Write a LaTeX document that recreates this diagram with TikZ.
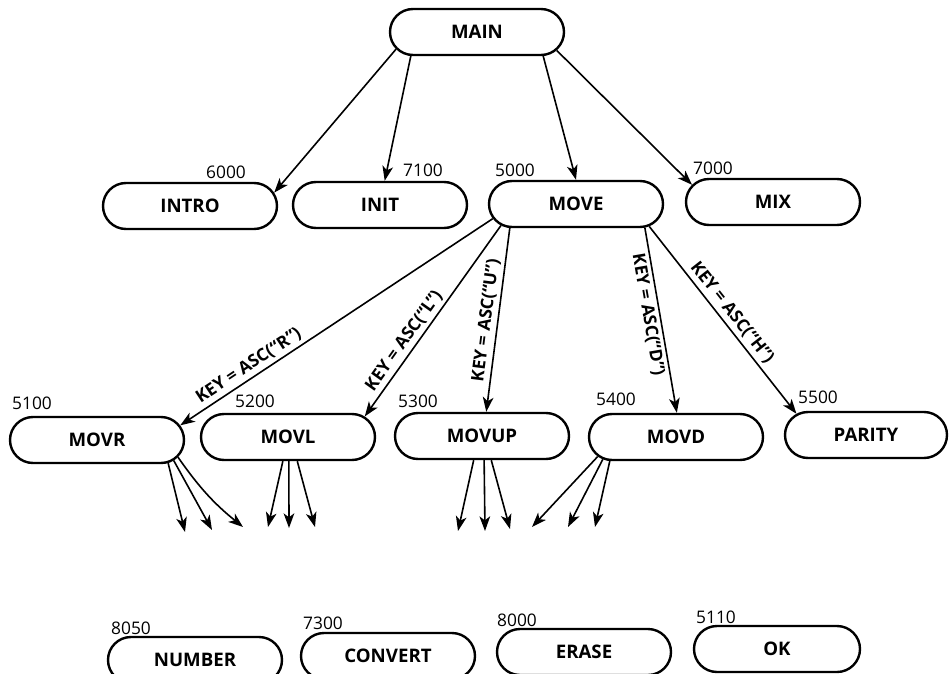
\documentclass[tikz,border=0pt]{standalone}
\usepackage{fontspec}
\setmainfont{Open Sans}
\usetikzlibrary{shapes.misc,arrows.meta,calc}

\begin{document}
\begin{tikzpicture}[x=0.75pt,y=-0.75pt,
  proc/.style={rounded rectangle, draw, line width=1.8pt,
    minimum width=130.5pt, minimum height=34.5pt, inner sep=0pt,
    font=\bfseries\fontsize{14}{16}\selectfont},
  num/.style={inner sep=0pt, font=\fontsize{13}{15}\selectfont},
  keylbl/.style={sloped, inner sep=2.5pt, font=\bfseries\fontsize{13}{15}\selectfont},
  arr/.style={line width=1.2pt, -{Stealth[length=11pt,width=8pt,inset=3pt]}},
]
\useasboundingbox (0,0) rectangle (949,674);

% top level
\node[proc] (main) at (477,32) {MAIN};

% second level
\node[proc] (intro) at (190,206) {INTRO};
\node[proc] (init)  at (380,205) {INIT};
\node[proc] (move)  at (576,204) {MOVE};
\node[proc] (mix)   at (773,202) {MIX};

\node[num] (n6000) at (226,172) {6000};
\node[num] (n7100) at (423,170) {7100};
\node[num] (n5000) at (515,170) {5000};
\node[num] (n7000) at (713,168) {7000};

% movement handlers
\node[proc] (movr)  at (97,440)  {MOVR};
\node[proc] (movl)  at (288,437) {MOVL};
\node[proc] (movup) at (482,436) {MOVUP};
\node[proc] (movd)  at (676,437) {MOVD};
\node[proc, minimum width=121.5pt] (parity) at (866,435) {PARITY};

\node[num] (n5100) at (32,403)  {5100};
\node[num] (n5200) at (255,401) {5200};
\node[num] (n5300) at (418,401) {5300};
\node[num] (n5400) at (616,399) {5400};
\node[num] (n5500) at (818,397) {5500};

% utility routines
\node[proc] (number)  at (195,660) {NUMBER};
\node[proc] (convert) at (388,656) {CONVERT};
\node[proc] (erase)   at (584,652) {ERASE};
\node[proc, minimum width=124.5pt] (ok) at (777,649) {OK};

\node[num] (n8050) at (131,628) {8050};
\node[num] (n7300) at (323,623) {7300};
\node[num] (n8000) at (517,620) {8000};
\node[num] (n5110) at (716,617) {5110};

% calls from MAIN
\draw[arr] (main.192) -- (intro.9);
\draw[arr] (main.200) -- (init.79);
\draw[arr] (main.340) -- (move.north);
\draw[arr] (main.347) -- (mix.168);

% key dispatch from MOVE
\draw[arr] (move.190) -- node[keylbl, pos=0.76, above] (kr) {KEY = ASC(“R”)} (movr.10);
\draw[arr] (move.196) -- node[keylbl, pos=0.64, above] (kl) {KEY = ASC(“L”)} (movl.15);
\draw[arr] (move.200) -- node[keylbl, pos=0.51, above] (ku) {KEY = ASC(“U”)} (movup.80);
\draw[arr] (move.341) -- node[keylbl, pos=0.46, below] (kd) {KEY = ASC(“D”)} (movd.88);
\draw[arr] (move.343) -- node[keylbl, pos=0.5, above] (kh) {KEY = ASC(“H”)} (parity.163);

% further calls out of the handlers
\coordinate (r1) at (185,532);
\coordinate (r2) at (212,530);
\coordinate (r3) at (243,527);
\coordinate (l1) at (268,527);
\coordinate (l2) at (289,528);
\coordinate (l3) at (315,527);
\coordinate (u1) at (458,531);
\coordinate (u2) at (485,531);
\coordinate (u3) at (510,529);
\coordinate (d1) at (532,527);
\coordinate (d2) at (568,527);
\coordinate (d3) at (595,527);

\draw[arr] (movr.342) -- (r1);
\draw[arr] (movr.345) -- (r2);
\draw[arr] (movr.348) to[bend right=8] (r3);
\draw[arr] (movl.258) -- (l1);
\draw[arr] (movl.272) -- (l2);
\draw[arr] (movl.291) -- (l3);
\draw[arr] (movup.251) -- (u1);
\draw[arr] (movup.275) -- (u2);
\draw[arr] (movup.291) -- (u3);
\draw[arr] (movd.194) -- (d1);
\draw[arr] (movd.197) -- (d2);
\draw[arr] (movd.200) -- (d3);
\end{tikzpicture}
\end{document}
